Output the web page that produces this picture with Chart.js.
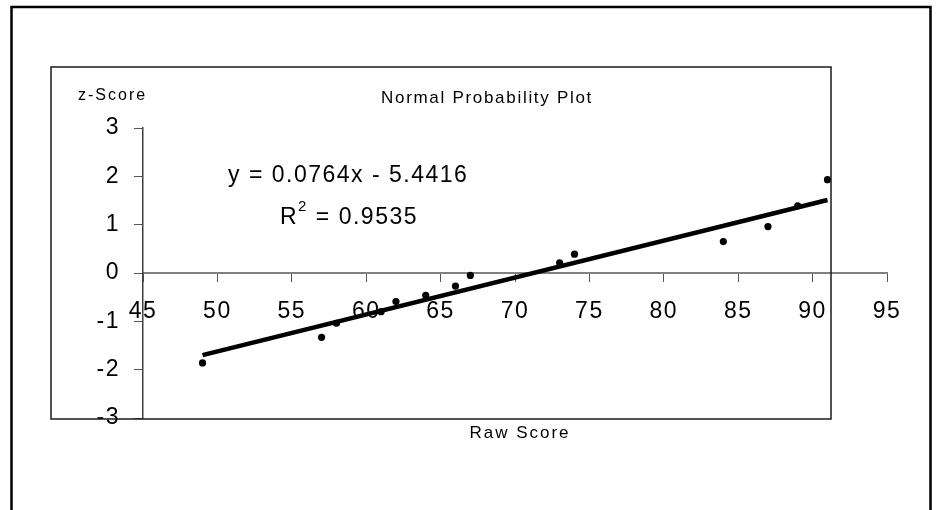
<!DOCTYPE html>
<html>
<head>
<meta charset="utf-8">
<title>Normal Probability Plot</title>
<script src="https://cdn.jsdelivr.net/npm/chart.js@4.4.1/dist/chart.umd.min.js"></script>
<style>
    html, body { margin: 0; padding: 0; background: #ffffff; }
    canvas { display: block; }
</style>
</head>
<body>
<canvas id="probPlot" width="938" height="510"></canvas>
<script>
// data
const rawScores = [49, 57, 58, 61, 62, 64, 66, 67, 73, 74, 84, 87, 89, 91];
const zScores = [-1.86, -1.33, -1.04, -0.80, -0.59, -0.46, -0.27, -0.05, 0.21, 0.39, 0.65, 0.96, 1.39, 1.93];

// trendline end points
const trendX = [49, 91];
const trendY = [-1.70, 1.51];

const xTicks = [45, 50, 55, 60, 65, 70, 75, 80, 85, 90, 95];
const yTicks = [-3, -2, -1, 0, 1, 2, 3];

const chartTitle = 'Normal Probability Plot';
const xTitle = 'Raw Score';
const yTitle = 'z-Score';
const equationText = 'y = 0.0764x - 5.4416';
const rSquaredText = '0.9535';

const FONT = "'Liberation Sans', Arial, sans-serif";

// frames and loose texts
const decorPlugin = {
    id: 'decor',
    beforeDraw: function (chart) {
        // slightly wide tick labels like the original
        chart.ctx.letterSpacing = '1.5px';
    },
    beforeDatasetsDraw: function (chart) {
        chart.ctx.letterSpacing = '0px';
    },
    afterDraw: function (chart) {
        const ctx = chart.ctx;
        ctx.save();

        // outer frame
        ctx.strokeStyle = '#000000';
        ctx.lineWidth = 2.5;
        ctx.strokeRect(11.5, 7, 919, 520);

        // plot frame
        ctx.lineWidth = 1.5;
        ctx.strokeStyle = '#1a1a1a';
        ctx.strokeRect(51, 67, 780, 352);

        ctx.fillStyle = '#000000';
        ctx.textBaseline = 'middle';

        ctx.font = '17px ' + FONT;
        ctx.letterSpacing = '1.7px';
        ctx.textAlign = 'center';
        ctx.fillText(chartTitle, 487, 98);

        ctx.letterSpacing = '2px';
        ctx.fillText(xTitle, 520, 433);

        ctx.font = '16px ' + FONT;
        ctx.textAlign = 'left';
        ctx.fillText(yTitle, 78, 96);

        // trendline label
        ctx.font = '23px ' + FONT;
        ctx.letterSpacing = '1.5px';
        ctx.fillText(equationText, 228, 176);

        let x = 280;
        ctx.fillText('R', x, 218);
        x += ctx.measureText('R').width;
        ctx.font = '15px ' + FONT;
        ctx.fillText('2', x, 207);
        x += ctx.measureText('2').width;
        ctx.font = '23px ' + FONT;
        ctx.fillText(' = ' + rSquaredText, x, 218);

        ctx.restore();
    }
};

const ctx = document.getElementById('probPlot').getContext('2d');

new Chart(ctx, {
    type: 'scatter',
    data: {
        datasets: [
            {
                label: 'Trendline',
                type: 'line',
                data: trendX.map((v, i) => ({ x: v, y: trendY[i] })),
                borderColor: '#000000',
                borderWidth: 4.5,
                pointRadius: 0,
                fill: false,
                order: 2
            },
            {
                label: 'z-Score',
                data: rawScores.map((v, i) => ({ x: v, y: zScores[i] })),
                backgroundColor: '#000000',
                borderColor: '#000000',
                pointRadius: 3.6,
                pointBorderWidth: 0,
                order: 1
            }
        ]
    },
    options: {
        responsive: false,
        animation: false,
        events: [],
        layout: {
            padding: { left: 0, top: 128, right: 51, bottom: 92 }
        },
        plugins: {
            legend: { display: false },
            title: { display: false },
            tooltip: { enabled: false }
        },
        scales: {
            x: {
                type: 'linear',
                min: 45,
                max: 95,
                position: { y: 0 },
                afterFit: function (scale) { scale.height = 0; },
                afterBuildTicks: function (scale) {
                    scale.ticks = xTicks.map(v => ({ value: v }));
                },
                grid: {
                    drawOnChartArea: false,
                    drawTicks: true,
                    tickLength: 8,
                    color: '#555555',
                    lineWidth: 1
                },
                border: { display: true, color: '#808080', width: 2 },
                ticks: {
                    padding: 17,
                    color: '#000000',
                    maxRotation: 0,
                    font: { family: FONT, size: 23 }
                }
            },
            y: {
                type: 'linear',
                min: -3,
                max: 3,
                afterFit: function (scale) { scale.width = 143; },
                afterBuildTicks: function (scale) {
                    scale.ticks = yTicks.map(v => ({ value: v }));
                },
                grid: {
                    drawOnChartArea: false,
                    drawTicks: true,
                    tickLength: 9,
                    color: '#555555',
                    lineWidth: 1
                },
                border: { display: true, color: '#404040', width: 1.5 },
                ticks: {
                    padding: 14,
                    color: '#000000',
                    font: { family: FONT, size: 23 }
                }
            }
        }
    },
    plugins: [decorPlugin]
});
</script>
</body>
</html>
